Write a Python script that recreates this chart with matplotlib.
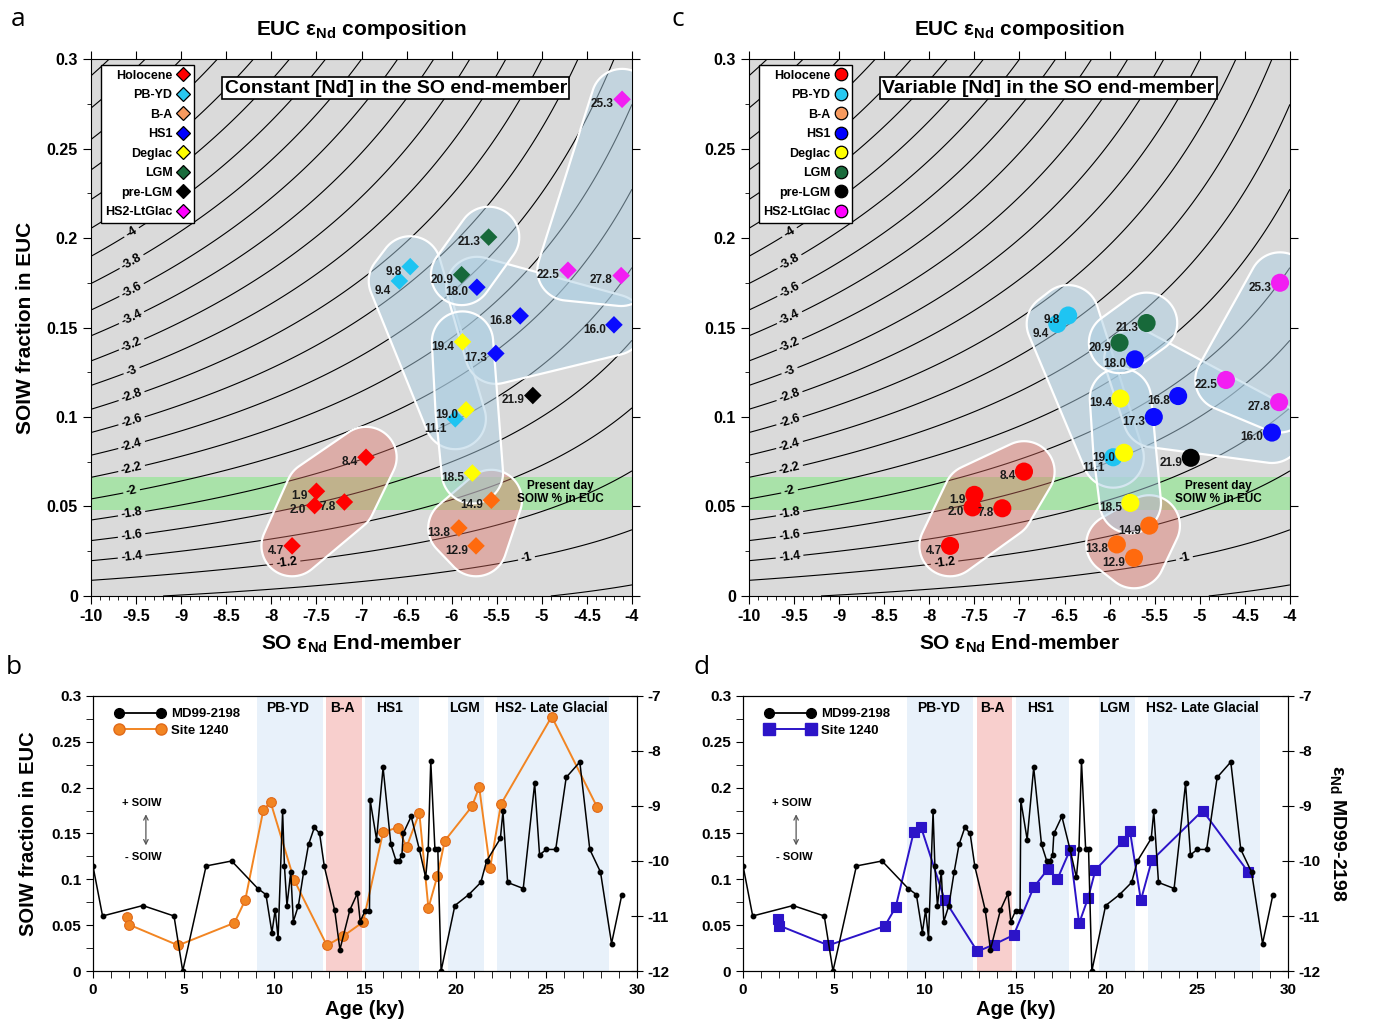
import numpy as np
import matplotlib
matplotlib.use("Agg")
import matplotlib.pyplot as plt
from matplotlib.lines import Line2D
from matplotlib.ticker import MultipleLocator, FuncFormatter

plt.rcParams["font.family"] = ["Liberation Sans", "DejaVu Sans"]
plt.rcParams["font.weight"] = "bold"
plt.rcParams["axes.labelweight"] = "bold"
plt.rcParams["axes.titleweight"] = "bold"
plt.rcParams["mathtext.fontset"] = "custom"
plt.rcParams["mathtext.rm"] = "Liberation Sans:bold"
plt.rcParams["mathtext.bf"] = "Liberation Sans:bold"
plt.rcParams["mathtext.it"] = "Liberation Sans:bold"

# ---- data ----
groups = ["Holocene", "PB-YD", "B-A", "HS1", "Deglac", "LGM", "pre-LGM", "HS2-LtGlac"]
group_colors = ["#ff0000", "#1ec4f2", "#ff6a0e", "#0a0aff", "#ffff00", "#17693a", "#000000", "#f21ef2"]
legend_colors = ["#ff0000", "#28c8f0", "#f79a5e", "#0000ff", "#ffff00", "#1a6b3c", "#000000", "#ff00ff"]

# Site 1240 samples (age in ky, labelled next to each point)
ages = [1.9, 2.0, 4.7, 7.8, 8.4, 9.4, 9.8, 11.1, 12.9, 13.8, 14.9, 16.0,
        16.8, 17.3, 18.0, 18.5, 19.0, 19.4, 20.9, 21.3, 21.9, 22.5, 25.3, 27.8]
age_group = [0, 0, 0, 0, 0, 1, 1, 1, 2, 2, 2, 3, 3, 3, 3, 4, 4, 4, 5, 5, 6, 7, 7, 7]
so_end_member = [-7.50, -7.52, -7.77, -7.19, -6.95, -6.58, -6.46, -5.96, -5.73, -5.92, -5.56, -4.20,
                 -5.24, -5.51, -5.72, -5.77, -5.84, -5.88, -5.89, -5.59, -5.10, -4.71, -4.11, -4.12]
soiw_constant = [0.0585, 0.0505, 0.028, 0.0525, 0.0775, 0.176, 0.184, 0.099, 0.028, 0.038, 0.0535, 0.1515,
                 0.1565, 0.1355, 0.1725, 0.0687, 0.104, 0.142, 0.1795, 0.2005, 0.112, 0.182, 0.2775, 0.179]
soiw_variable = [0.0565, 0.0495, 0.028, 0.049, 0.0695, 0.152, 0.1567, 0.0775, 0.0213, 0.0288, 0.0393, 0.0913,
                 0.1117, 0.100, 0.1322, 0.052, 0.080, 0.1103, 0.1415, 0.1525, 0.0772, 0.1207, 0.175, 0.1083]

# MD99-2198 eNd record
md_age = [0.0, 0.53, 2.75, 4.47, 4.95, 6.24, 7.65, 9.09, 9.54, 9.87, 10.05, 10.21, 10.46, 10.56, 10.70,
          10.91, 11.05, 11.33, 11.62, 11.89, 12.21, 12.50, 12.76, 13.33, 13.62, 14.17, 14.58, 14.74,
          15.01, 15.25, 15.29, 15.64, 16.00, 16.43, 16.72, 16.88, 17.04, 17.11, 17.55, 18.00, 18.35,
          18.49, 18.63, 18.86, 19.02, 19.20, 19.96, 20.73, 21.39, 21.71, 22.47, 22.61, 22.87, 23.73,
          24.36, 24.63, 25.00, 25.52, 26.10, 26.85, 27.40, 27.99, 28.60, 29.17]
md_end = [-10.09, -11.0, -10.81, -11.0, -12.0, -10.09, -10.0, -10.50, -10.61, -11.30, -10.89, -11.40,
          -9.10, -10.09, -10.81, -10.20, -11.10, -10.81, -10.20, -9.70, -9.39, -9.50, -10.10, -10.89,
          -11.61, -10.89, -10.59, -11.10, -10.90, -10.90, -8.90, -9.61, -8.30, -9.70, -10.0, -10.0,
          -9.89, -9.50, -9.19, -9.79, -10.30, -9.79, -8.18, -9.79, -9.79, -12.0, -10.81, -10.61,
          -10.39, -10.0, -9.59, -9.10, -10.39, -10.50, -8.59, -9.89, -9.79, -9.79, -8.48, -8.20,
          -9.79, -10.20, -11.50, -10.61]

period_names = ["PB-YD", "B-A", "HS1", "LGM", "HS2- Late Glacial"]
period_start = [9.02, 12.86, 15.0, 19.6, 22.3]
period_end = [12.66, 14.83, 17.97, 21.55, 28.47]
period_colors = ["#e8f1fa", "#f8cfcd", "#e8f1fa", "#e8f1fa", "#e8f1fa"]

# two end-member mixing model behind the contours
EPS_OTHER = -0.6      # eNd of the non-SO end-member
ND_RATIO = 2.1        # [Nd] SO / [Nd] other
SO_BACKGROUND = 0.0227
contour_levels = np.round(np.arange(-26, -3) * 0.2, 1)
label_levels = np.round(np.arange(-20, -4) * 0.2, 1)   # -4 ... -1

Y_SCALE = 20.0  # makes 0.05 in y about as long as 1 eNd unit on screen


def mixing(x, y):
    f = y + SO_BACKGROUND
    return (f * ND_RATIO * x + (1 - f) * EPS_OTHER) / (f * ND_RATIO + 1 - f)


def mixing_fraction(level, x):
    return (EPS_OTHER - level) / (ND_RATIO * (level - x) + EPS_OTHER - level) - SO_BACKGROUND


def convex_hull(points):
    pts = sorted(points)

    def cross(o, a, b):
        return (a[0] - o[0]) * (b[1] - o[1]) - (a[1] - o[1]) * (b[0] - o[0])

    lower = []
    for p in pts:
        while len(lower) >= 2 and cross(lower[-2], lower[-1], p) <= 0:
            lower.pop()
        lower.append(p)
    upper = []
    for p in reversed(pts):
        while len(upper) >= 2 and cross(upper[-2], upper[-1], p) <= 0:
            upper.pop()
        upper.append(p)
    return lower[:-1] + upper[:-1]


def envelope(ax, xs, ys, radius, face):
    t = np.linspace(0, 2 * np.pi, 72, endpoint=False)
    pts = []
    for x, y in zip(xs, ys):
        for tt in t:
            pts.append((x + radius * np.cos(tt), y * Y_SCALE + radius * np.sin(tt)))
    h = np.array(convex_hull(pts))
    ax.fill(h[:, 0], h[:, 1] / Y_SCALE, facecolor=face, edgecolor="white", lw=1.6, zorder=3)


fmt_g = FuncFormatter(lambda v, p: f"{v:g}")


def draw_mixing(ax, soiw, marker, size, leg_size, box_text, box_x):
    ax.set_facecolor("#dadada")
    ax.axhspan(0.048, 0.0665, color="#a9e2a9", lw=0, zorder=1)

    gx = np.linspace(-10, -4, 400)
    gy = np.linspace(0, 0.3, 400)
    X, Y = np.meshgrid(gx, gy)
    Z = mixing(X, Y)
    plain = [lv for lv in contour_levels if lv not in label_levels]
    ax.contour(X, Y, Z, levels=plain, colors="k", linewidths=0.8, linestyles="solid", zorder=2)
    cs = ax.contour(X, Y, Z, levels=label_levels, colors="k", linewidths=0.8, linestyles="solid",
                    zorder=2)
    pos = []
    for lev in label_levels:
        if lev < -1.3:
            pos.append((-9.55, mixing_fraction(lev, -9.55)))
        elif lev < -1.1:
            pos.append((-7.83, mixing_fraction(lev, -7.83)))
        else:
            pos.append((-5.17, mixing_fraction(lev, -5.17)))
    labs = ax.clabel(cs, manual=pos, fmt="%g", fontsize=9, inline=True, inline_spacing=3)
    for t in labs:
        t.set_fontweight("bold")

    # envelopes around each period
    red_face = (225 / 255, 112 / 255, 100 / 255, 0.42)
    blue_face = (173 / 255, 207 / 255, 227 / 255, 0.5)
    for gi, name in enumerate(groups):
        idx = [i for i, g in enumerate(age_group) if g == gi]
        if len(idx) < 2:
            continue
        face = red_face if name in ("Holocene", "B-A") else blue_face
        envelope(ax, [so_end_member[i] for i in idx], [soiw[i] for i in idx], 0.34, face)

    cols = [group_colors[g] for g in age_group]
    ax.scatter(so_end_member, soiw, c=cols, marker=marker, s=size, edgecolors="none", zorder=5)
    for x, y, a in zip(so_end_member, soiw, ages):
        dy = -7.5 if a in (11.1, 9.4) else -3.5
        ax.annotate(f"{a:.1f}", (x, y), xytext=(-6, dy), textcoords="offset points",
                    ha="right", va="center", fontsize=8.5, color="#1a1a1a", zorder=6)

    ax.text(box_x, 0.2838, box_text, ha="center", va="center", fontsize=14, zorder=7,
            bbox=dict(boxstyle="square,pad=0.12", fc="white", ec="black", lw=1.2))
    ax.text(-4.79, 0.0578, "Present day\nSOIW % in EUC", ha="center", va="center",
            fontsize=8.5, linespacing=1.15, zorder=7)

    handles = [Line2D([], [], ls="none", marker=marker, ms=leg_size, mfc=c, mec="black", mew=0.9)
               for c in legend_colors]
    ax.legend(handles, groups, loc="upper left", bbox_to_anchor=(0.018, 0.988), fontsize=9,
              markerfirst=False, handlelength=1.0, handletextpad=0.35, labelspacing=0.6,
              borderpad=0.35, borderaxespad=0, fancybox=False, edgecolor="black",
              framealpha=1).set_zorder(8)

    ax.set_xlim(-10, -4)
    ax.set_ylim(0, 0.3)
    ax.xaxis.set_major_locator(MultipleLocator(0.5))
    ax.xaxis.set_minor_locator(MultipleLocator(0.1))
    ax.yaxis.set_major_locator(MultipleLocator(0.05))
    ax.yaxis.set_minor_locator(MultipleLocator(0.025))
    ax.xaxis.set_major_formatter(fmt_g)
    ax.yaxis.set_major_formatter(fmt_g)
    ax.tick_params(which="major", direction="out", length=6, top=True, right=True, labelsize=11.5)
    ax.tick_params(which="minor", direction="out", length=3)
    ax.set_title("EUC ε$_{Nd}$ composition", fontsize=15, pad=17)
    ax.set_xlabel("SO ε$_{Nd}$ End-member", fontsize=15, labelpad=6)


def draw_series(ax, soiw, color, edge, marker, ms):
    for s, e, name, c in zip(period_start, period_end, period_names, period_colors):
        ax.axvspan(s, e, color=c, lw=0, zorder=0)
        ax.text((s + e) / 2 - 0.1, 0.287, name, ha="center", va="center", fontsize=10, zorder=4)
    ax.plot(ages, soiw, "-", color=color, lw=1.4, marker=marker, ms=ms, mfc=color, mec=edge,
            mew=0.8, zorder=3)
    ax.text(2.7, 0.183, "+ SOIW", ha="center", va="center", fontsize=8)
    ax.text(2.8, 0.124, "- SOIW", ha="center", va="center", fontsize=8)
    ax.annotate("", xy=(2.92, 0.134), xytext=(2.92, 0.174),
                arrowprops=dict(arrowstyle="<->", color="#555555", lw=0.9, mutation_scale=8))
    ax.set_xlim(0, 30)
    ax.set_ylim(0, 0.3)
    ax.xaxis.set_major_locator(MultipleLocator(5))
    ax.xaxis.set_minor_locator(MultipleLocator(1))
    ax.yaxis.set_major_locator(MultipleLocator(0.05))
    ax.yaxis.set_minor_locator(MultipleLocator(0.025))
    ax.xaxis.set_major_formatter(fmt_g)
    ax.yaxis.set_major_formatter(fmt_g)
    ax.tick_params(which="both", direction="out", length=5, labelsize=11)
    ax.set_xlabel("Age (ky)", fontsize=14.5, labelpad=2)

    tw = ax.twinx()
    tw.plot(md_age, md_end, "-", color="black", lw=1.1, marker="o", ms=3.2)
    tw.set_ylim(-12, -7)
    tw.yaxis.set_major_locator(MultipleLocator(1))
    tw.yaxis.set_major_formatter(fmt_g)
    tw.tick_params(direction="inout", length=8, labelsize=11)

    handles = [Line2D([], [], color="black", lw=1.3, marker="o", ms=7),
               Line2D([], [], color=color, lw=1.4, marker=marker, ms=8, mfc=color, mec=edge)]
    tw.legend(handles, ["MD99-2198", "Site 1240"], loc="upper left", bbox_to_anchor=(0.03, 0.975),
              frameon=False, fontsize=9.5, numpoints=2, handlelength=3.8, handletextpad=0.45,
              labelspacing=0.3, borderaxespad=0)
    return tw


fig = plt.figure(figsize=(13.73, 10.32), dpi=100)
ax_a = fig.add_axes([0.0663, 0.4225, 0.394, 0.5203])
ax_c = fig.add_axes([0.5455, 0.4225, 0.394, 0.5203])
ax_b = fig.add_axes([0.0677, 0.0591, 0.3962, 0.2665])
ax_d = fig.add_axes([0.5412, 0.0591, 0.3969, 0.2665])

draw_mixing(ax_a, soiw_constant, "D", 80, 7.5, "Constant [Nd] in the SO end-member", -6.62)
draw_mixing(ax_c, soiw_variable, "o", 170, 9, "Variable [Nd] in the SO end-member", -6.68)
ax_a.set_ylabel("SOIW fraction in EUC", fontsize=15, labelpad=8)

draw_series(ax_b, soiw_constant, "#f28522", "#e06a1a", "o", 7)
tw_d = draw_series(ax_d, soiw_variable, "#2c14c8", "#2c14c8", "s", 6.5)
ax_b.set_ylabel("SOIW fraction in EUC", fontsize=14.5, labelpad=10)
tw_d.set_ylabel("ε$_{Nd}$ MD99-2198", fontsize=14, rotation=270, labelpad=20)

for letter, x, y in [("a", 0.008, 0.981), ("c", 0.489, 0.981), ("b", 0.004, 0.353), ("d", 0.505, 0.353)]:
    fig.text(x, y, letter, fontsize=19, fontweight="normal", family=["Open Sans", "DejaVu Sans"],
             va="center")

fig.savefig("out.png", dpi=100)
